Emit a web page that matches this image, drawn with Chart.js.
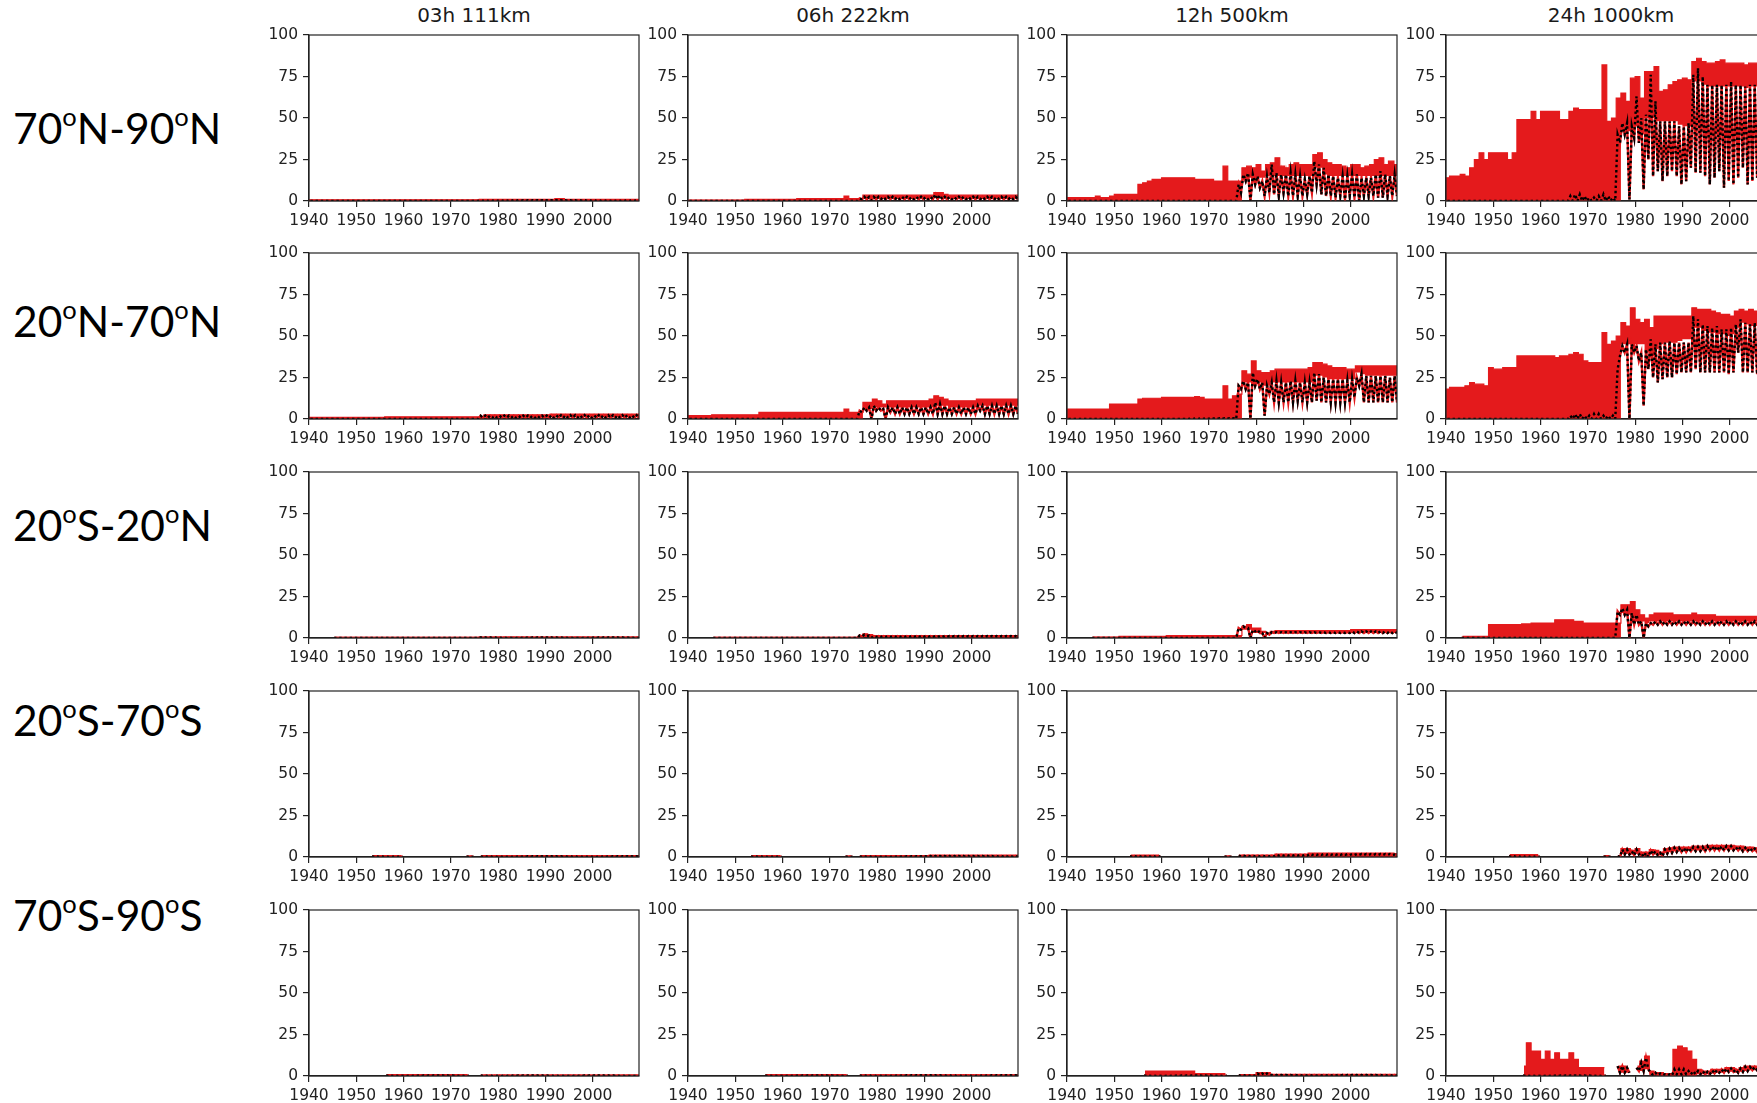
<!DOCTYPE html>
<html>
<head>
<meta charset="utf-8">
<title>Detection rate by latitude band</title>
<script src="https://cdn.jsdelivr.net/npm/chart.js@4.4.1/dist/chart.umd.min.js"></script>
<style>
  html, body { margin: 0; padding: 0; background: #fff; }
  body { width: 1757px; height: 1103px; position: relative; overflow: hidden; }
  .panel { position: absolute; }
  .title { position: absolute; width: 330px; text-align: center; font-family: 'DejaVu Sans'; font-size: 20px; line-height: 1; color: #1a1a1a; white-space: nowrap; }
  .rowlab { position: absolute; left: 13px; font-family: Lato; font-size: 42.5px; line-height: 1; color: #000; white-space: nowrap; }
  .rowlab .deg { font-size: 0.6em; vertical-align: 0.72em; }
</style>
</head>
<body>
<script>
const na = null;
const startYear = 1940;

// column titles, row labels, axis ticks
const colTitles = ['03h 111km', '06h 222km', '12h 500km', '24h 1000km'];
const rowLabels = ['70oN-90oN', '20oN-70oN', '20oS-20oN', '20oS-70oS', '70oS-90oS'];
const xTickYears = [1940, 1950, 1960, 1970, 1980, 1990, 2000];
const yTickValues = [0, 25, 50, 75, 100];

// one value per year 1940..2009
// top/bot = red band, hi/lo = yearly swing of the dotted (black) series
const r1c1Top = [
  0.7,0.7,0.7,0.7,0.7,0.7,0.7,0.7,0.7,0.7,
  0.7,0.7,0.7,0.7,0.7,0.7,0.7,0.7,0.7,0.7,
  0.7,0.7,0.7,0.7,0.7,0.7,0.7,0.7,0.7,0.7,
  0.7,0.7,0.7,0.7,0.7,0.7,1,1,1,1,
  1,1,1,1,1,1,1,1,1,1,
  1,1,1.4,1.4,1,1,1,1,1,1,
  1,1,1,1,1,1,1,1,1,1];
const r1c1Hi = [
  0,0,0,0,0,0,0,0,0,0,
  0,0,0,0,0,0,0,0,0,0,
  0,0,0,0,0,0,0,0,0,0,
  0,0,0,0,0,0,0.5,0.5,0.5,0.5,
  0.5,0.5,0.5,0.5,0.5,0.5,0.5,0.5,0.5,0.5,
  0.5,0.5,0.5,0.5,0.5,0.5,0.5,0.5,0.5,0.5,
  0.5,0.5,0.5,0.5,0.5,0.5,0.5,0.5,0.5,0.5];

const r1c2Top = [
  0.6,0.6,0.6,0.6,0.6,0.6,0.6,0.6,0.6,0.6,
  0.6,0.6,1,1,1,1,1,1,1,1,
  1,1,1,1.5,1.5,1.5,1.5,1.5,1.5,1.5,
  1.5,1.5,1.5,3,1.5,1.5,1.5,3.5,3.5,3.5,
  3.5,3.5,3.5,3.5,3.5,3.5,3.5,3.5,3.5,3.5,
  3.5,3.5,5,5,4,3.5,3.5,3.5,3.5,3.5,
  3.5,3.5,3.5,3.5,3.5,3.5,3.5,3.5,3.5,3.5];
const r1c2Bot = [
  0,0,0,0,0,0,0,0,0,0,
  0,0,0,0,0,0,0,0,0,0,
  0,0,0,0,0,0,0,0,0,0,
  0,0,0,0,0,0,0,1.8,1.8,1.8,
  1.8,1.8,1.8,1.8,1.8,1.8,1.8,1.8,1.8,1.8,
  1.8,1.8,1.8,1.8,1.8,1.8,1.8,1.8,1.8,1.8,
  1.8,1.8,1.8,1.8,1.8,1.8,1.8,1.8,1.8,1.8];
const r1c2Hi = [
  0,0,0,0,0,0,0,0,0,0,
  0,0,0,0,0,0,0,0,0,0,
  0,0,0,0,0,0,0,0,0,0,
  0,0,0,0,0,0,1.5,2.5,2.5,2.5,
  2.5,2.5,2.5,2.5,2.5,2.5,2.5,2.5,2.5,2.5,
  2.5,2.5,4,3.5,2.5,2.5,2.5,2.5,2.5,2.5,
  2.5,2.5,2.5,2.5,2.5,2.5,2.5,2.5,2.5,2.5];
const r1c2Lo = [
  0,0,0,0,0,0,0,0,0,0,
  0,0,0,0,0,0,0,0,0,0,
  0,0,0,0,0,0,0,0,0,0,
  0,0,0,0,0,0,1,1,0.3,1,
  1,1,1,1,1,1,1,1,1,1,
  1,1,1,1,1,1,1,1,1,1,
  1,1,1,1,1,1,1,1,1,1];

const r1c3Top = [
  2,2,2,2,2,2,3,2,2,3,
  4,4,4,4,4,10,11,12,13,13,
  14,14,14,14,14,14,14,13,13,13,
  13,12,12,21,12,12,12,20,21,20,
  22,18,22,23,26,21,20,22,23,22,
  22,22,28,29,25,23,22,22,21,20,
  22,22,20,21,22,25,26,22,24,22];
const r1c3Bot = [
  0,0,0,0,0,0,0,0,0,0,
  0,0,0,0,0,0,0,0,0,0,
  0,0,0,0,0,0,0,0,0,0,
  0,0,0,0,0,0,0,14,14,12,
  14,14,15,15,15,15,15,15,15,15,
  15,15,20,20,16,15,15,15,15,15,
  15,15,15,15,15,15,15,15,15,15];
const r1c3Hi = [
  0,0,0,0,0,0,0,0,0,0,
  0,0,0,0,0,0,0,0,0,0,
  0,0,0,0,0,0,0,0,0,0,
  0,0,0,0,0,0,10,16,17,16,
  15,12,15,22,17,16,16,17,16,15,
  13,15,24,22,20,16,15,14,15,15,
  16,16,14,14,14,16,18,16,15,16];
const r1c3Lo = [
  0,0,0,0,0,0,0,0,0,0,
  0,0,0,0,0,0,0,0,0,0,
  0,0,0,0,0,0,0,0,0,0,
  0,0,0,0,0,0,5,12,0,10,
  8,3,5,4,3,5,3,3,3,3,
  4,5,10,4,3,3,2,3,1,3,
  2,0,3,3,3,2,2,3,3,3];

const r1c4Top = [
  14,15,15,16,15,20,25,29,25,29,
  29,29,29,25,29,49,49,49,54,49,
  54,54,54,54,49,49,54,56,55,55,
  55,55,55,82,48,50,62,65,60,74,
  75,62,78,78,81,66,67,70,72,73,
  74,73,84,86,84,83,83,84,85,83,
  83,83,83,82,83,83,83,83,83,83];
const r1c4Bot = [
  0,0,0,0,0,0,0,0,0,0,
  0,0,0,0,0,0,0,0,0,0,
  0,0,0,0,0,0,0,0,0,0,
  0,0,0,0,0,0,0,42,42,40,
  45,40,50,50,48,48,48,48,48,46,
  45,45,72,72,70,69,69,69,69,69,
  69,69,69,68,69,69,69,69,69,69];
const r1c4Hi = [
  0,0,0,0,0,0,0,0,0,0,
  0,0,0,0,0,0,0,0,0,0,
  0,0,0,0,0,0,3,4,4,3,
  2,2,3,4,3,2,40,47,47,45,
  63,50,52,76,60,48,48,48,48,45,
  45,47,76,80,75,70,70,70,70,70,
  72,70,70,69,70,70,70,72,72,72];
const r1c4Lo = [
  0,0,0,0,0,0,0,0,0,0,
  0,0,0,0,0,0,0,0,0,0,
  0,0,0,0,0,0,0,0,0,0,
  0,0,0,0,0,0,35,40,1,38,
  35,7,25,15,18,12,15,18,15,10,
  12,20,17,17,15,10,14,18,8,12,
  10,14,20,10,12,14,12,12,14,13];

const r2c1Top = [
  1,1,1,1,1,1,1,1,1,1,
  1,1,1,1,1,1,1.3,1.3,1.3,1.3,
  1.3,1.3,1.3,1.3,1.3,1.3,1.3,1.3,1.3,1.3,
  1.3,1.3,1.3,1.3,1.3,1.3,1.3,2.5,2.5,2.5,
  2.5,2.5,2.5,2.5,2.5,2.5,2.5,2.5,2.5,2.5,
  2.5,3,3,3,3,3,3,3,3,3,
  3,3,3,3,3,3,3,3,3,3];
const r2c1Bot = [
  0,0,0,0,0,0,0,0,0,0,
  0,0,0,0,0,0,0,0,0,0,
  0,0,0,0,0,0,0,0,0,0,
  0,0,0,0,0,0,0,1.2,1.2,1.2,
  1.2,1.2,1.2,1.2,1.2,1.2,1.2,1.2,1.2,1.2,
  1.2,1.2,1.2,1.2,1.2,1.2,1.2,1.2,1.2,1.2,
  1.2,1.2,1.2,1.2,1.2,1.2,1.2,1.2,1.2,1.2];
const r2c1Hi = [
  0,0,0,0,0,0,0,0,0,0,
  0,0,0,0,0,0,0,0,0,0,
  0,0,0,0,0,0,0,0,0,0,
  0,0,0,0,0,0,2,2,2,2,
  2,2,2,2,2,2,2,2,2,2,
  2,2.3,2.3,2.3,2.3,2.3,2.3,2.3,2.3,2.3,
  2.3,2.3,2.3,2.3,2.3,2.3,2.3,2.3,2.3,2.3];
const r2c1Lo = [
  0,0,0,0,0,0,0,0,0,0,
  0,0,0,0,0,0,0,0,0,0,
  0,0,0,0,0,0,0,0,0,0,
  0,0,0,0,0,0,0.7,0.7,0.7,0.7,
  0.7,0.7,0.7,0.7,0.7,0.7,0.7,0.7,0.7,0.7,
  0.7,0.7,0.7,0.7,0.7,0.7,0.7,0.7,0.7,0.7,
  0.7,0.7,0.7,0.7,0.7,0.7,0.7,0.7,0.7,0.7];

const r2c2Top = [
  2,2,2,2,2,2.5,2.5,2.5,2.5,2.5,
  2.5,2.5,2.5,2.5,2.5,4,4,4,4,4,
  4,4,4,4,4,4,4,4,4,4,
  4,4,4,6,4,4,4,10,10,12,
  11,9,11,11,11,11,11,11,11,11,
  11,12,14,13,12,11,11,11,11,11,
  11,12,12,12,12,12,12,12,12,12];
const r2c2Bot = [
  0,0,0,0,0,0,0,0,0,0,
  0,0,0,0,0,0,0,0,0,0,
  0,0,0,0,0,0,0,0,0,0,
  0,0,0,0,0,0,0,6,6,7,
  7,7,7,7,7,7,7,7,7,7,
  7,7,8,8,8,7,7,7,7,7,
  7,8,8,8,8,8,8,8,8,8];
const r2c2Hi = [
  0,0,0,0,0,0,0,0,0,0,
  0,0,0,0,0,0,0,0,0,0,
  0,0,0,0,0,0,0,0,0,0,
  0,0,0,0,0,0,5,7,7,8,
  7,6,7,7,7,7,7,7,7,7,
  7,7,10,9,8,7,7,7,7,7,
  7,8,8,8,8,8,8,8,8,8];
const r2c2Lo = [
  0,0,0,0,0,0,0,0,0,0,
  0,0,0,0,0,0,0,0,0,0,
  0,0,0,0,0,0,0,0,0,0,
  0,0,0,0,0,0,4,5,0,5,
  5,0,4,3,3,3,3,3,3,3,
  3,3,3,3,3,3,3,3,3,3,
  3,5,3,3,3,3,3,3,3,3];

const r2c3Top = [
  6,6,6,6,6,6,6,6,6,9,
  9,9,9,9,9,12,12.5,12.5,12.5,12.5,
  13,13,13,13,13,13,13,13.5,13,12,
  12,12,12,20,12,14,15,29,27,35,
  29,28,28,29,30,30,30,30,30,30,
  30,31,34,34,33,32,31,31,31,30,
  30,32,32,32,32,32,32,32,32,32];
const r2c3Bot = [
  0,0,0,0,0,0,0,0,0,0,
  0,0,0,0,0,0,0,0,0,0,
  0,0,0,0,0,0,0,0,0,0,
  0,0,0,0,0,0,0,22,22,20,
  22,20,20,22,22,22,22,22,22,22,
  22,22,26,26,25,24,24,24,24,24,
  24,28,27,26,26,26,26,26,26,26];
const r2c3Hi = [
  0,0,0,0,0,0,0,0,0,0,
  0,0,0,0,0,0,0,0,0,0,
  0,0,0,0,0,0,0.5,0.5,0.5,0.5,
  0.5,0.5,0.5,0.5,0.5,0.5,20,23,22,28,
  24,22,20,22,23,22,22,23,23,22,
  22,22,28,27,25,24,24,24,24,23,
  24,25,27,26,26,26,26,26,25,26];
const r2c3Lo = [
  0,0,0,0,0,0,0,0,0,0,
  0,0,0,0,0,0,0,0,0,0,
  0,0,0,0,0,0,0,0,0,0,
  0,0,0,0,0,0,18,18,0,20,
  18,2,15,10,10,10,10,10,11,10,
  10,10,11,10,10,10,10,10,10,10,
  13,20,10,10,10,10,10,10,10,10];

const r2c4Top = [
  18,19,19,19,20,22,21,21,20,31,
  30,30,31,31,31,38,38,38,38,38,
  38,38,38,37,38,38,39,40,39,35,
  34,34,34,52,45,47,50,58,56,67,
  60,58,60,55,62,62,62,62,62,62,
  62,62,67,66,66,66,65,64,63,63,
  62,65,66,65,66,65,65,65,63,64];
const r2c4Bot = [
  0,0,0,0,0,0,0,0,0,0,
  0,0,0,0,0,0,0,0,0,0,
  0,0,0,0,0,0,0,0,0,0,
  0,0,0,0,0,0,0,45,45,40,
  45,45,40,38,42,45,46,46,46,47,
  48,48,55,55,53,52,52,51,51,50,
  51,55,58,57,56,56,56,56,56,56];
const r2c4Hi = [
  0,0,0,0,0,0,0,0,0,0,
  0,0,0,0,0,0,0,0,0,0,
  0,0,0,0,0,0,2,3,3,2,
  2,3,3,2,2,2,30,44,45,45,
  44,40,42,48,45,46,46,47,46,46,
  46,46,62,60,57,56,55,56,54,54,
  55,57,60,58,57,58,57,58,58,58];
const r2c4Lo = [
  0,0,0,0,0,0,0,0,0,0,
  0,0,0,0,0,0,0,0,0,0,
  0,0,0,0,0,0,0,0,0,0,
  0,0,0,0,0,0,38,40,0,40,
  35,8,30,25,22,24,25,25,27,28,
  28,28,30,28,28,28,28,28,28,27,
  28,40,28,28,28,27,27,27,27,27];

const r3c1Top = [
  na,na,na,na,na,0.4,0.4,0.4,0.4,0.4,
  0.4,0.4,0.4,0.4,0.4,0.4,0.4,0.4,0.4,0.4,
  0.4,0.4,0.4,0.4,0.4,0.4,0.4,0.4,0.4,0.4,
  0.4,0.4,0.4,0.4,0.4,0.4,0.6,0.6,0.6,0.6,
  0.6,0.6,0.6,0.6,0.6,0.6,0.6,0.6,0.6,0.6,
  0.6,0.6,0.6,0.6,0.6,0.6,0.6,0.6,0.6,0.6,
  0.6,0.6,0.6,0.6,0.6,0.6,0.6,0.6,0.6,0.6];
const r3c1Hi = [
  na,na,na,na,na,0,0,0,0,0,
  0,0,0,0,0,0,0,0,0,0,
  0,0,0,0,0,0,0,0,0,0,
  0,0,0,0,0,0,0.3,0.3,0.3,0.3,
  0.3,0.3,0.3,0.3,0.3,0.3,0.3,0.3,0.3,0.3,
  0.3,0.3,0.3,0.3,0.3,0.3,0.3,0.3,0.3,0.3,
  0.3,0.3,0.3,0.3,0.3,0.3,0.3,0.3,0.3,0.3];

const r3c2Top = [
  na,na,na,na,na,0.4,0.4,0.4,0.4,0.4,
  0.4,0.4,0.4,0.4,0.4,0.4,0.4,0.4,0.4,0.4,
  0.4,0.4,0.4,0.4,0.4,0.4,0.4,0.4,0.4,0.4,
  0.4,0.4,0.4,0.4,0.4,0.4,0.4,2.5,2,1.5,
  1.5,1.5,1.5,1.5,1.5,1.5,1.5,1.5,1.5,1.5,
  1.5,1.5,1.5,1.5,1.5,1.5,1.5,1.5,1.5,1.5,
  1.5,1.5,1.5,1.5,1.5,1.5,1.5,1.5,1.5,1.5];
const r3c2Bot = [
  na,na,na,na,na,0,0,0,0,0,
  0,0,0,0,0,0,0,0,0,0,
  0,0,0,0,0,0,0,0,0,0,
  0,0,0,0,0,0,0,0.6,0.6,0.6,
  0.6,0.6,0.6,0.6,0.6,0.6,0.6,0.6,0.6,0.6,
  0.6,0.6,0.6,0.6,0.6,0.6,0.6,0.6,0.6,0.6,
  0.6,0.6,0.6,0.6,0.6,0.6,0.6,0.6,0.6,0.6];
const r3c2Hi = [
  na,na,na,na,na,0,0,0,0,0,
  0,0,0,0,0,0,0,0,0,0,
  0,0,0,0,0,0,0,0,0,0,
  0,0,0,0,0,0,1.5,2,1.5,1.2,
  1.2,1.2,1.2,1.2,1.2,1.2,1.2,1.2,1.2,1.2,
  1.2,1.2,1.2,1.2,1.2,1.2,1.2,1.2,1.2,1.2,
  1.2,1.2,1.2,1.2,1.2,1.2,1.2,1.2,1.2,1.2];
const r3c2Lo = [
  na,na,na,na,na,0,0,0,0,0,
  0,0,0,0,0,0,0,0,0,0,
  0,0,0,0,0,0,0,0,0,0,
  0,0,0,0,0,0,1,1.2,0,0.6,
  0.6,0.6,0.6,0.6,0.6,0.6,0.6,0.6,0.6,0.6,
  0.6,0.6,0.6,0.6,0.6,0.6,0.6,0.6,0.6,0.6,
  0.6,0.6,0.6,0.6,0.6,0.6,0.6,0.6,0.6,0.6];

const r3c3Top = [
  na,na,na,na,na,0.5,0.5,0.5,0.5,0.5,
  0.5,1,1,1,1,1,1,1,1,1,
  1,1.5,1.5,1.5,1.5,1.5,1.5,1.5,1.5,1.5,
  1.5,1.5,1.5,1.5,1.5,1.5,1.5,7,8,6,
  6,4,3,4,4.5,4.5,4.5,4.5,4.5,4.5,
  4.5,4.5,4.5,4.5,4.5,4.5,4.5,4.5,4.5,4.5,
  5,5,5,5,5,5,5,5,5,5];
const r3c3Bot = [
  na,na,na,na,na,0,0,0,0,0,
  0,0,0,0,0,0,0,0,0,0,
  0,0,0,0,0,0,0,0,0,0,
  0,0,0,0,0,0,0,5,5,3,
  3,3,3,3,3,3,3,3,3,3,
  3,3,3,3,3,3,3,3,3,3,
  3,3,3,3,3,3,3,3,3,3];
const r3c3Hi = [
  na,na,na,na,na,0,0,0,0,0,
  0,0,0,0,0,0,0,0,0,0,
  0,0,0,0,0,0,0,0,0,0,
  0,0,0,0,0,0,6,7,6,5,
  5,3,3,3.5,3.5,3.5,3.5,3.5,3.5,3.5,
  3.5,3.5,3.5,3.5,3.5,3.5,3.5,3.5,3.5,3.5,
  4,4,4,4,4,4,4,4,4,4];
const r3c3Lo = [
  na,na,na,na,na,0,0,0,0,0,
  0,0,0,0,0,0,0,0,0,0,
  0,0,0,0,0,0,0,0,0,0,
  0,0,0,0,0,0,5,6,0,4,
  3,0,2,3,3,3,3,3,3,3,
  3,3,3,3,3,3,3,3,3,3,
  3,3,3,3,3,3,3,3,3,3];

const r3c4Top = [
  na,na,na,1,1,1,1,1,1,8,
  8,8,8,8,8,8,8.5,8.5,9,9,
  9,9,9,11,11,11,11,10,10,9,
  9,9,9,9,9,9,9,20,20,22,
  17,14,12,14,15,15,15,15,14,14,
  14,14,15,14,14,14,14,13,13,13,
  13,13,13,13,13,13,13,13,13,13];
const r3c4Bot = [
  na,na,na,0,0,0,0,0,0,0,
  0,0,0,0,0,0,0,0,0,0,
  0,0,0,0,0,0,0,0,0,0,
  0,0,0,0,0,0,0,15,14,12,
  10,10,9,10,10,10,10,10,10,10,
  10,10,10,10,10,10,10,10,10,10,
  10,10,10,10,10,10,10,10,10,10];
const r3c4Hi = [
  na,na,na,0,0,0,0,0,0,0,
  0,0,0,0,0,0,0,0,0,0,
  0,0,0,0,0,0,0,0,0,0,
  0,0,0,0,0,0,16,18,17,15,
  14,10,9,9,10,10,10,10,10,10,
  10,10,10,10,10,10,10,10,10,10,
  10,10,10,10,10,10,10,10,10,10];
const r3c4Lo = [
  na,na,na,0,0,0,0,0,0,0,
  0,0,0,0,0,0,0,0,0,0,
  0,0,0,0,0,0,0,0,0,0,
  0,0,0,0,0,0,14,14,0,8,
  8,0,7,8,8,8,8,8,8,8,
  8,8,8,8,8,8,8,8,8,8,
  8,8,8,8,8,8,8,8,8,8];

const r4c1Top = [
  na,na,na,na,na,na,na,na,na,na,
  na,na,na,0.8,0.8,0.8,0.8,0.8,0.8,0.8,
  na,na,na,na,na,na,na,na,na,na,
  na,na,na,0.5,0.5,na,0.8,0.8,0.8,0.8,
  0.8,0.8,0.8,0.8,0.8,0.8,0.8,0.8,0.8,0.8,
  0.8,0.8,0.8,0.8,0.8,0.8,0.8,0.8,0.8,0.8,
  0.8,0.8,0.8,0.8,0.8,0.8,0.8,0.8,0.8,0.8];
const r4c1Hi = [
  na,na,na,na,na,na,na,na,na,na,
  na,na,na,0.4,0.4,0.4,0.4,0.4,0.4,0.4,
  na,na,na,na,na,na,na,na,na,na,
  na,na,na,0.3,0.3,na,0.4,0.4,0.4,0.4,
  0.4,0.4,0.4,0.4,0.4,0.4,0.4,0.4,0.4,0.4,
  0.4,0.4,0.4,0.4,0.4,0.4,0.4,0.4,0.4,0.4,
  0.4,0.4,0.4,0.4,0.4,0.4,0.4,0.4,0.4,0.4];

const r4c2Top = [
  na,na,na,na,na,na,na,na,na,na,
  na,na,na,0.8,0.8,0.8,0.8,0.8,0.8,0.8,
  na,na,na,na,na,na,na,na,na,na,
  na,na,na,0.5,0.5,na,0.8,0.8,0.8,0.8,
  0.8,0.8,0.8,0.8,0.8,0.8,0.8,0.8,0.8,0.8,
  0.8,1.1,1.1,1.1,1.1,1.1,1.1,1.1,1.1,1.1,
  1.1,1.1,1.1,1.1,1.1,1.1,1.1,1.1,1.1,1.1];
const r4c2Hi = [
  na,na,na,na,na,na,na,na,na,na,
  na,na,na,0.4,0.4,0.4,0.4,0.4,0.4,0.4,
  na,na,na,na,na,na,na,na,na,na,
  na,na,na,0.3,0.3,na,0.4,0.4,0.4,0.4,
  0.4,0.4,0.4,0.4,0.4,0.4,0.4,0.4,0.4,0.4,
  0.4,0.6,0.6,0.6,0.6,0.6,0.6,0.6,0.6,0.6,
  0.6,0.6,0.6,0.6,0.6,0.6,0.6,0.6,0.6,0.6];

const r4c3Top = [
  na,na,na,na,na,na,na,na,na,na,
  na,na,na,1.2,1.2,1.2,1.2,1.2,1.2,1.2,
  na,na,na,na,na,na,na,na,na,na,
  na,na,na,0.6,0.6,na,1.2,1.2,1.2,1.2,
  1.2,1.2,1.2,1.2,1.7,1.7,1.7,1.7,1.7,1.7,
  1.7,2.3,2.3,2.3,2.3,2.3,2.3,2.3,2.3,2.3,
  2.3,2.3,2.3,2.3,2.3,2.3,2.3,2.3,2.3,2];
const r4c3Hi = [
  na,na,na,na,na,na,na,na,na,na,
  na,na,na,0.6,0.6,0.6,0.6,0.6,0.6,0.6,
  na,na,na,na,na,na,na,na,na,na,
  na,na,na,0.3,0.3,na,0.8,0.8,0.8,0.8,
  0.8,0.8,0.8,0.8,1.3,1.3,1.3,1.3,1.3,1.3,
  1.3,1.8,1.8,1.8,1.8,1.8,1.8,1.8,1.8,1.8,
  1.8,1.8,1.8,1.8,1.8,1.8,1.8,1.8,1.8,1.5];
const r4c3Lo = [
  na,na,na,na,na,na,na,na,na,na,
  na,na,na,0,0,0,0,0,0,0,
  na,na,na,na,na,na,na,na,na,na,
  na,na,na,0,0,na,0.3,0.3,0.3,0.3,
  0.3,0.3,0.3,0.3,0.8,0.8,0.8,0.8,0.8,0.8,
  0.8,1.2,1.2,1.2,1.2,1.2,1.2,1.2,1.2,1.2,
  1.2,1.2,1.2,1.2,1.2,1.2,1.2,1.2,1.2,1.2];

const r4c4Top = [
  na,na,na,na,na,na,na,na,na,na,
  na,na,na,1.5,1.5,1.5,1.5,1.5,1.5,1.5,
  na,na,na,na,na,na,na,na,na,na,
  na,na,na,0.8,0.8,na,0.8,5,5,4,
  5,3,3,4.5,4,3,5,5.5,6,6,
  6,6,6.5,6.5,6.5,7,7,7,7,7,
  7,6.5,6.5,6,6,5.5,5,5,4.5,4];
const r4c4Bot = [
  na,na,na,na,na,na,na,na,na,na,
  na,na,na,0,0,0,0,0,0,0,
  na,na,na,na,na,na,na,na,na,na,
  na,na,na,0,0,na,0,2,2,1.5,
  2,0.5,0.5,2,1.5,1,2.5,3,3.5,3.5,
  3.5,4,4,4,4,4.5,4.5,4.5,4.5,4.5,
  4.5,4.5,4,4,4,3.5,3,3,2.5,2.5];
const r4c4Hi = [
  na,na,na,na,na,na,na,na,na,na,
  na,na,na,0.5,0.5,0.5,0.5,0.5,0.5,0.5,
  na,na,na,na,na,na,na,na,na,na,
  na,na,na,0.3,0.3,na,0.5,4.5,4.5,3.5,
  4.5,2.5,2.5,4,3.5,2.5,4.5,5,5.5,5.5,
  5.5,5.5,6,6,6,6.5,6.5,6.5,6.5,6.5,
  6.5,6,6,5.5,5.5,5,4.5,4.5,4,3.5];
const r4c4Lo = [
  na,na,na,na,na,na,na,na,na,na,
  na,na,na,0,0,0,0,0,0,0,
  na,na,na,na,na,na,na,na,na,na,
  na,na,na,0,0,na,0,1.5,1.5,1,
  1.5,0,0,1.5,1,0.5,2,2.5,3,3,
  3,3.5,3.5,3.5,3.5,4,4,4,4,4,
  4,4,3.5,3.5,3.5,3,2.5,2.5,2,2];

const r5c1Top = [
  na,na,na,na,na,na,na,na,na,na,
  na,na,na,na,na,na,0.8,0.8,0.8,0.8,
  0.8,0.8,0.8,0.8,0.8,0.8,0.8,0.8,0.8,0.8,
  0.8,0.8,0.8,0.8,na,na,0.6,0.6,0.6,0.6,
  0.6,0.6,0.6,0.6,0.6,0.6,0.6,0.6,0.6,0.6,
  0.6,0.6,0.6,0.6,0.6,0.6,0.6,0.6,0.6,0.6,
  0.6,0.6,0.6,0.6,0.6,0.6,0.6,0.6,0.6,0.6];
const r5c1Hi = [
  na,na,na,na,na,na,na,na,na,na,
  na,na,na,na,na,na,0.3,0.3,0.3,0.3,
  0.3,0.3,0.3,0.3,0.3,0.3,0.3,0.3,0.3,0.3,
  0.3,0.3,0.3,0.3,na,na,0.3,0.3,0.3,0.3,
  0.3,0.3,0.3,0.3,0.3,0.3,0.3,0.3,0.3,0.3,
  0.3,0.3,0.3,0.3,0.3,0.3,0.3,0.3,0.3,0.3,
  0.3,0.3,0.3,0.3,0.3,0.3,0.3,0.3,0.3,0.3];

const r5c2Top = [
  na,na,na,na,na,na,na,na,na,na,
  na,na,na,na,na,na,0.8,0.8,0.8,0.8,
  0.8,0.8,0.8,0.8,0.8,0.8,0.8,0.8,0.8,0.8,
  0.8,0.8,0.8,0.8,na,na,0.7,0.7,0.7,0.7,
  0.7,0.7,0.7,0.7,0.7,0.7,0.7,0.7,0.7,0.7,
  0.7,0.7,0.7,0.7,0.7,0.7,0.7,0.7,0.7,0.7,
  0.7,0.7,0.7,0.7,0.7,0.7,0.7,0.7,0.7,0.7];
const r5c2Hi = [
  na,na,na,na,na,na,na,na,na,na,
  na,na,na,na,na,na,0.3,0.3,0.3,0.3,
  0.3,0.3,0.3,0.3,0.3,0.3,0.3,0.3,0.3,0.3,
  0.3,0.3,0.3,0.3,na,na,0.4,0.4,0.4,0.4,
  0.4,0.4,0.4,0.4,0.4,0.4,0.4,0.4,0.4,0.4,
  0.4,0.4,0.4,0.4,0.4,0.4,0.4,0.4,0.4,0.4,
  0.4,0.4,0.4,0.4,0.4,0.4,0.4,0.4,0.4,0.4];

const r5c3Top = [
  na,na,na,na,na,na,na,na,na,na,
  na,na,na,na,na,na,3,3,3,3,
  3,3,3,3,3,3,3,1.5,1.5,1.5,
  1.5,1.5,1.5,1.5,na,na,0.8,0.8,0.8,0.8,
  2,2,2,1,1,1,1,1,1,1,
  1,1,1,1,1,1,1,1,1,1,
  1,1,1,1,1,1,1,1,1,1];
const r5c3Hi = [
  na,na,na,na,na,na,na,na,na,na,
  na,na,na,na,na,na,0.3,0.3,0.3,0.3,
  0.3,0.3,0.3,0.3,0.3,0.3,0.3,0.3,0.3,0.3,
  0.3,0.3,0.3,0.3,na,na,0.5,0.5,0.5,0.5,
  1.5,1.5,1.5,0.6,0.6,0.6,0.6,0.6,0.6,0.6,
  0.6,0.6,0.6,0.6,0.6,0.6,0.6,0.6,0.6,0.6,
  0.6,0.6,0.6,0.6,0.6,0.6,0.6,0.6,0.6,0.6];
const r5c3Lo = [
  na,na,na,na,na,na,na,na,na,na,
  na,na,na,na,na,na,0,0,0,0,
  0,0,0,0,0,0,0,0,0,0,
  0,0,0,0,na,na,0,0,0,0,
  0.5,0.5,0.5,0.2,0.2,0.2,0.2,0.2,0.2,0.2,
  0.2,0.2,0.2,0.2,0.2,0.2,0.2,0.2,0.2,0.2,
  0.2,0.2,0.2,0.2,0.2,0.2,0.2,0.2,0.2,0.2];

const r5c4Top = [
  na,na,na,na,na,na,na,na,na,na,
  na,na,na,na,na,na,6,20,15,15,
  10,15,10,14,10,10,14,10,5,5,
  5,5,5,5,na,na,6,6,5,na,
  6,9,12,3,2,2,1.5,1.5,16,18,
  17,15,10,4,3,3,4,4,4,5,
  5,4,5,6,6,6,6,5,4,4];
const r5c4Bot = [
  na,na,na,na,na,na,na,na,na,na,
  na,na,na,na,na,na,0,0,0,0,
  0,0,0,0,0,0,0,0,0,0,
  0,0,0,0,na,na,2,2,2,na,
  3,3,4,0.5,0.5,0.5,0.3,0.3,0,0,
  0,0,0,1,1,1,1.5,2,2,2.5,
  2.5,2,2.5,3,3.5,3.5,3,2.5,2,2];
const r5c4Hi = [
  na,na,na,na,na,na,na,na,na,na,
  na,na,na,na,na,na,0.3,0.3,0.3,0.3,
  0.3,0.3,0.3,0.3,0.3,0.3,0.3,0.3,0.3,0.3,
  0.3,0.3,0.3,0.3,na,na,6,6,5,na,
  5,8,11,2,2,1.5,1,1,4,4,
  4,3,3,3,3,2.5,3.5,3.5,4,4.5,
  4.5,4,4.5,5.5,5.5,5.5,5.5,4.5,3.5,3.5];
const r5c4Lo = [
  na,na,na,na,na,na,na,na,na,na,
  na,na,na,na,na,na,0,0,0,0,
  0,0,0,0,0,0,0,0,0,0,
  0,0,0,0,na,na,2,2,2,na,
  3,3,4,0.5,0.5,0.5,0.3,0.3,1,1,
  1,1,1,1,1,1,1.5,2,2,2.5,
  2.5,2,2.5,3,3.5,3.5,3,2.5,2,2];

// [top, bot, hi, lo] per panel, row by row; null bot/lo = baseline at 0
const panels = [
  [r1c1Top, null, r1c1Hi, null], [r1c2Top, r1c2Bot, r1c2Hi, r1c2Lo], [r1c3Top, r1c3Bot, r1c3Hi, r1c3Lo], [r1c4Top, r1c4Bot, r1c4Hi, r1c4Lo],
  [r2c1Top, r2c1Bot, r2c1Hi, r2c1Lo], [r2c2Top, r2c2Bot, r2c2Hi, r2c2Lo], [r2c3Top, r2c3Bot, r2c3Hi, r2c3Lo], [r2c4Top, r2c4Bot, r2c4Hi, r2c4Lo],
  [r3c1Top, null, r3c1Hi, null], [r3c2Top, r3c2Bot, r3c2Hi, r3c2Lo], [r3c3Top, r3c3Bot, r3c3Hi, r3c3Lo], [r3c4Top, r3c4Bot, r3c4Hi, r3c4Lo],
  [r4c1Top, null, r4c1Hi, null], [r4c2Top, null, r4c2Hi, null], [r4c3Top, null, r4c3Hi, r4c3Lo], [r4c4Top, r4c4Bot, r4c4Hi, r4c4Lo],
  [r5c1Top, null, r5c1Hi, null], [r5c2Top, null, r5c2Hi, null], [r5c3Top, null, r5c3Hi, r5c3Lo], [r5c4Top, r5c4Bot, r5c4Hi, r5c4Lo]
];

// layout
const colLeft = [309, 688, 1067, 1446];
const rowTop = [34.5, 252.5, 471.5, 690.5, 909.5];
const rowLabelMid = [129, 321.5, 525.5, 720.5, 915.5];
const plotW = 330, plotH = 166;
const axisW = 52, axisH = 30, padTop = 16, padRight = 10;
const xMin = 1940, xMax = 2009.8;

const red = '#e41a1c';
const ink = '#222222';
Chart.defaults.font.family = 'DejaVu Sans';

colTitles.forEach((t, c) => {
  const d = document.createElement('div');
  d.className = 'title';
  d.textContent = t;
  d.style.left = colLeft[c] + 'px';
  d.style.top = '5px';
  document.body.appendChild(d);
});

rowLabels.forEach((t, r) => {
  const d = document.createElement('div');
  d.className = 'rowlab';
  d.innerHTML = t.replace(/o/g, '<span class="deg">o</span>');
  d.style.top = (rowLabelMid[r] - 25) + 'px';
  document.body.appendChild(d);
});

function zeroWhere(vals) {
  return vals.map(v => (v === null ? null : 0));
}

function bandData(vals) {
  return vals.map((v, i) => {
    let x = startYear + i + 0.5;
    if (i === 0) x = xMin;
    if (i === vals.length - 1) x = xMax;
    return { x: x, y: v };
  });
}

function zigData(hi, lo) {
  const pts = [];
  hi.forEach((v, i) => {
    pts.push({ x: startYear + i + 0.3, y: v });
    pts.push({ x: startYear + i + 0.8, y: lo[i] });
  });
  return pts;
}

const frame = {
  id: 'frame',
  afterDraw(chart) {
    const { ctx, chartArea: a } = chart;
    ctx.save();
    ctx.strokeStyle = ink;
    ctx.lineWidth = 1.2;
    ctx.strokeRect(a.left, a.top, a.right - a.left, a.bottom - a.top);
    ctx.restore();
  }
};

panels.forEach((p, k) => {
  const row = Math.floor(k / 4), col = k % 4;
  const top = p[0], hi = p[2];
  const bot = p[1] || zeroWhere(top);
  const lo = p[3] || zeroWhere(hi);

  const canvas = document.createElement('canvas');
  canvas.className = 'panel';
  canvas.width = axisW + plotW + padRight;
  canvas.height = padTop + plotH + axisH;
  canvas.style.left = (colLeft[col] - axisW) + 'px';
  canvas.style.top = (rowTop[row] - padTop) + 'px';
  document.body.appendChild(canvas);

  const zig = zigData(hi, lo);

  new Chart(canvas, {
    type: 'line',
    data: {
      datasets: [
        { data: zig, borderColor: '#000', borderWidth: 2.4, borderDash: [2.4, 2.8], fill: false },
        { data: zig, borderColor: red, borderWidth: 2.4, fill: false },
        { data: bandData(top), borderColor: red, borderWidth: 1.2, backgroundColor: red, stepped: 'middle', fill: '+1' },
        { data: bandData(bot), borderColor: red, borderWidth: 0, stepped: 'middle', fill: false }
      ]
    },
    options: {
      responsive: false,
      animation: false,
      events: [],
      layout: { padding: { left: 0, top: padTop, right: padRight, bottom: 0 } },
      plugins: { legend: { display: false }, tooltip: { enabled: false } },
      elements: { point: { radius: 0 }, line: { tension: 0 } },
      scales: {
        x: {
          type: 'linear', min: xMin, max: xMax,
          afterBuildTicks: s => { s.ticks = xTickYears.map(v => ({ value: v })); },
          afterFit: s => { s.height = axisH; },
          ticks: { color: ink, font: { size: 15.5 }, padding: 5, maxRotation: 0, autoSkip: false, callback: v => String(v) },
          grid: { drawOnChartArea: false, drawTicks: true, tickLength: 6, color: ink, lineWidth: 1.2 },
          border: { display: true, color: ink, width: 1.2 }
        },
        y: {
          min: 0, max: 100,
          afterBuildTicks: s => { s.ticks = yTickValues.map(v => ({ value: v })); },
          afterFit: s => { s.width = axisW; },
          ticks: { color: ink, font: { size: 15.5 }, padding: 5, callback: v => String(v) },
          grid: { drawOnChartArea: false, drawTicks: true, tickLength: 6, color: ink, lineWidth: 1.2 },
          border: { display: true, color: ink, width: 1.2 }
        }
      }
    },
    plugins: [frame]
  });
});
</script>
</body>
</html>
